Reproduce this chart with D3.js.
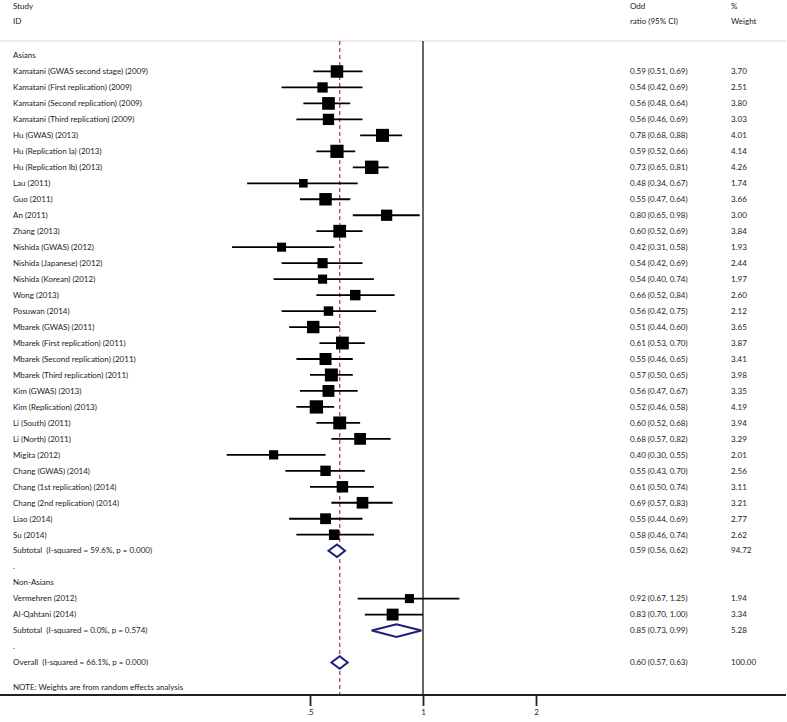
<!DOCTYPE html>
<html>
<head>
<meta charset="utf-8">
<script src="https://cdn.jsdelivr.net/npm/d3@7"></script>
<style>
  body { margin: 0; background: #fff; }
  svg { display: block; }
  text { font-family: Lato, "Open Sans", sans-serif; font-size: 8px; fill: #1a1a1a; white-space: pre; }
</style>
</head>
<body>
<svg id="chart" width="787" height="722"></svg>
<script>
// ---- Data ----
const studies = [
  "Kamatani (GWAS second stage) (2009)", "Kamatani (First replication) (2009)",
  "Kamatani (Second replication) (2009)", "Kamatani (Third replication) (2009)",
  "Hu (GWAS) (2013)", "Hu (Replication Ia) (2013)", "Hu (Replication Ib) (2013)",
  "Lau (2011)", "Guo (2011)", "An (2011)", "Zhang (2013)",
  "Nishida (GWAS) (2012)", "Nishida (Japanese) (2012)", "Nishida (Korean) (2012)",
  "Wong (2013)", "Posuwan (2014)",
  "Mbarek (GWAS) (2011)", "Mbarek (First replication) (2011)",
  "Mbarek (Second replication) (2011)", "Mbarek (Third replication) (2011)",
  "Kim (GWAS) (2013)", "Kim (Replication) (2013)",
  "Li (South) (2011)", "Li (North) (2011)", "Migita (2012)",
  "Chang (GWAS) (2014)", "Chang (1st replication) (2014)", "Chang (2nd replication) (2014)",
  "Liao (2014)", "Su (2014)",
  "Vermehren (2012)", "Al-Qahtani (2014)"
];
const groups = ["Asians","Asians","Asians","Asians","Asians","Asians","Asians","Asians","Asians","Asians",
  "Asians","Asians","Asians","Asians","Asians","Asians","Asians","Asians","Asians","Asians",
  "Asians","Asians","Asians","Asians","Asians","Asians","Asians","Asians","Asians","Asians",
  "Non-Asians","Non-Asians"];
const orValues = [0.59,0.54,0.56,0.56,0.78,0.59,0.73,0.48,0.55,0.80,0.60,0.42,0.54,0.54,0.66,0.56,
  0.51,0.61,0.55,0.57,0.56,0.52,0.60,0.68,0.40,0.55,0.61,0.69,0.55,0.58,0.92,0.83];
const ciLow = [0.51,0.42,0.48,0.46,0.68,0.52,0.65,0.34,0.47,0.65,0.52,0.31,0.42,0.40,0.52,0.42,
  0.44,0.53,0.46,0.50,0.47,0.46,0.52,0.57,0.30,0.43,0.50,0.57,0.44,0.46,0.67,0.70];
const ciHigh = [0.69,0.69,0.64,0.69,0.88,0.66,0.81,0.67,0.64,0.98,0.69,0.58,0.69,0.74,0.84,0.75,
  0.60,0.70,0.65,0.65,0.67,0.58,0.68,0.82,0.55,0.70,0.74,0.83,0.69,0.74,1.25,1.00];
const weights = [3.70,2.51,3.80,3.03,4.01,4.14,4.26,1.74,3.66,3.00,3.84,1.93,2.44,1.97,2.60,2.12,
  3.65,3.87,3.41,3.98,3.35,4.19,3.94,3.29,2.01,2.56,3.11,3.21,2.77,2.62,1.94,3.34];

const groupNames = ["Asians", "Non-Asians"];
const subtotalLabels = ["Subtotal  (I-squared = 59.6%, p = 0.000)", "Subtotal  (I-squared = 0.0%, p = 0.574)"];
const subtotalOR = [0.59, 0.85];
const subtotalLow = [0.56, 0.73];
const subtotalHigh = [0.62, 0.99];
const subtotalWeight = ["94.72", "5.28"];

const overallLabel = "Overall  (I-squared = 66.1%, p = 0.000)";
const overallOR = 0.60, overallLow = 0.57, overallHigh = 0.63, overallWeight = "100.00";

const tickValues = [0.5, 1, 2];
const tickLabels = [".5", "1", "2"];
const noteText = "NOTE: Weights are from random effects analysis";

// ---- Build rows ----
const rows = [];
groupNames.forEach((g, gi) => {
  rows.push({type: "group", label: g});
  studies.forEach((s, i) => {
    if (groups[i] === g) rows.push({type: "study", label: s, or: orValues[i], lo: ciLow[i], hi: ciHigh[i], w: weights[i]});
  });
  rows.push({type: "sub", label: subtotalLabels[gi], or: subtotalOR[gi], lo: subtotalLow[gi], hi: subtotalHigh[gi], wText: subtotalWeight[gi]});
  rows.push({type: "dot", label: "."});
});
rows.push({type: "sub", label: overallLabel, or: overallOR, lo: overallLow, hi: overallHigh, wText: overallWeight});

const f2 = d3.format(".2f");
const svg = d3.select("#chart");

const x = d3.scaleLog().domain([0.5, 2]).range([310, 536]);
const y = d3.scaleLinear().domain([0, rows.length - 1]).range([55.5, 662.5]);
const axisY = 695;
const topY = 41;
const colLabel = 13, colOR = 630, colW = 731;

// header
const hdr = [["Study", colLabel, 6], ["ID", colLabel, 21], ["Odd", colOR, 6], ["ratio (95% CI)", colOR, 21], ["%", colW, 6], ["Weight", colW, 21]];
svg.selectAll("text.hdr").data(hdr).join("text").attr("class", "hdr")
  .attr("x", d => d[1]).attr("y", d => d[2]).attr("dy", "0.35em").text(d => d[0]);

svg.append("line").attr("x1", 0).attr("x2", 786).attr("y1", topY).attr("y2", topY)
  .attr("stroke", "#e2d3d5").attr("stroke-width", 1);

// reference lines
svg.append("line").attr("x1", x(1)).attr("x2", x(1)).attr("y1", topY).attr("y2", axisY)
  .attr("stroke", "#333").attr("stroke-width", 1.5);
svg.append("line").attr("x1", x(overallOR)).attr("x2", x(overallOR)).attr("y1", topY).attr("y2", axisY)
  .attr("stroke", "#a8353f").attr("stroke-width", 1.2).attr("stroke-dasharray", "4,3");

// row labels
const g = svg.append("g");
rows.forEach((r, i) => {
  const yy = y(i);
  g.append("text").attr("x", colLabel).attr("y", yy).attr("dy", "0.35em").text(r.label);
  if (r.type === "study" || r.type === "sub") {
    g.append("text").attr("x", colOR).attr("y", yy).attr("dy", "0.35em")
      .text(`${f2(r.or)} (${f2(r.lo)}, ${f2(r.hi)})`);
    g.append("text").attr("x", colW).attr("y", yy).attr("dy", "0.35em")
      .text(r.type === "study" ? f2(r.w) : r.wText);
  }
  if (r.type === "study") {
    g.append("line").attr("x1", x(r.lo)).attr("x2", x(r.hi)).attr("y1", yy).attr("y2", yy)
      .attr("stroke", "#000").attr("stroke-width", 1.8);
    const s = 6.5 * Math.sqrt(r.w);
    g.append("rect").attr("x", x(r.or) - s / 2).attr("y", yy - s / 2).attr("width", s).attr("height", s)
      .attr("fill", "#000");
  }
  if (r.type === "sub") {
    const h = 6.3;
    const pts = [[x(r.lo), yy], [x(r.or), yy - h], [x(r.hi), yy], [x(r.or), yy + h]];
    g.append("path").attr("d", "M" + pts.join("L") + "Z")
      .attr("fill", "#fff").attr("stroke", "#1a1f78").attr("stroke-width", 2);
  }
});

svg.append("text").attr("x", colLabel).attr("y", 687).attr("dy", "0.35em").text(noteText);

// axis
svg.append("line").attr("x1", 0).attr("x2", 786).attr("y1", axisY).attr("y2", axisY)
  .attr("stroke", "#222").attr("stroke-width", 1.8);
const ax = svg.append("g").attr("transform", `translate(0,${axisY})`)
  .call(d3.axisBottom(x).tickValues(tickValues).tickSize(11).tickSizeOuter(0)
    .tickFormat((d, i) => tickLabels[i]));
ax.select(".domain").remove();
ax.selectAll(".tick line").attr("stroke", "#222").attr("stroke-width", 1.8);
ax.selectAll(".tick text").attr("font-family", "Lato, 'Open Sans', sans-serif").attr("font-size", 8)
  .attr("fill", "#1a1a1a").attr("y", 14);
</script>
</body>
</html>
